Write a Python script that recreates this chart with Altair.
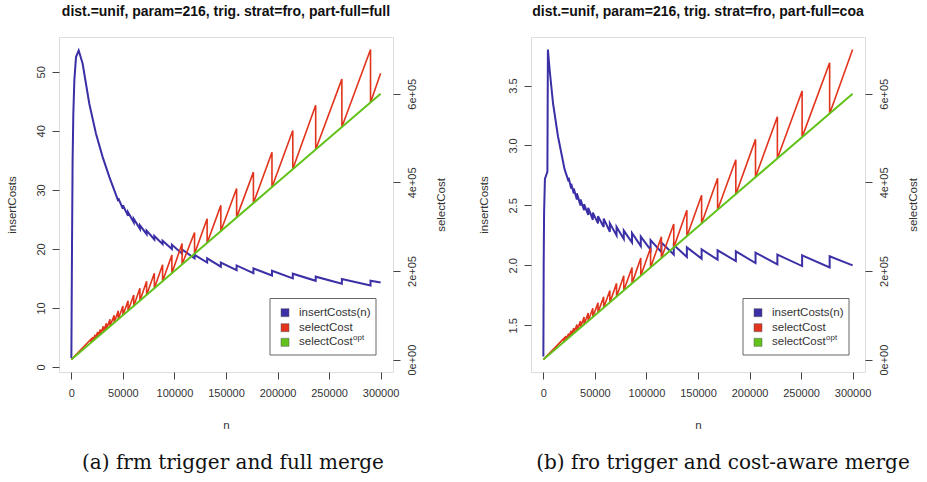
import altair as alt
import pandas as pd

# ---------------- panel (a) data ----------------
a_blue_n = [0, 600, 1200, 1900, 2900, 4500, 7100, 10900, 17400, 23900, 30300, 36800, 41500]
a_blue_v = [1.5, 20.0, 35.0, 42.9, 48.6, 52.5, 53.6, 51.4, 44.6, 39.5, 35.6, 32.2, 30.0]
a_blue_merge = [45500, 50000, 55000, 60500, 66500, 73000, 80500, 88500, 97500, 107400,
                119500, 131700, 145000, 160300, 176600, 194600, 214800, 237000, 262400, 290200]
a_blue_low = [28.1, 26.8, 25.6, 24.5, 23.4, 22.5, 21.6, 20.8, 20.0, 19.2,
              18.4, 17.7, 17.0, 16.4, 15.9, 15.5, 15.0, 14.6, 14.1, 13.8]
a_blue_high = [28.6, 27.4, 26.2, 25.1, 24.0, 23.1, 22.2, 21.4, 20.7, 19.9,
               19.0, 18.4, 17.7, 17.2, 16.7, 16.3, 15.8, 15.3, 14.9, 14.6]
a_blue_end = 14.3

a_sel_merge = [19000, 21000, 23000, 25500, 28000, 31000, 34000, 37500, 41500, 45500,
               50000, 55000, 60500, 66500, 73000, 80500, 88500, 97500, 107400, 119500,
               131700, 145000, 160300, 176600, 194600, 214800, 237000, 262400, 290200]
a_sel_high = [46000, 51000, 56000, 62000, 68000, 75000, 82000, 91000, 100000, 110000,
              121000, 133000, 146000, 161000, 177000, 195000, 214000, 236000, 262000, 287000,
              318000, 348000, 386000, 423000, 468000, 517000, 574000, 633000, 700000]
a_sel_low = [38000, 42000, 46000, 51000, 56000, 62000, 68000, 75000, 83000, 91000,
             100000, 110000, 121000, 133000, 146000, 161000, 177000, 195000, 215000, 239000,
             263000, 290000, 321000, 353000, 389000, 430000, 474000, 525000, 580000]
a_sel_end = 646000

a_opt_n = [0, 100000, 200000, 300000]
a_opt_v = [0, 200000, 400000, 600000]

# ---------------- panel (b) data ----------------
b_blue_n = [0, 300, 700, 1500, 3900, 4400, 6100, 9400, 14200, 20600]
b_blue_v = [1.24, 2.0, 2.44, 2.72, 2.78, 3.80, 3.63, 3.35, 3.075, 2.80]
b_blue_merge = [24500, 27000, 29500, 32500, 36000, 39500, 43500, 48000, 53000, 58500,
                64500, 71000, 78000, 86000, 94500, 104000, 114500, 126500, 139200, 153500,
                169000, 186700, 205800, 227000, 251000, 277700]
b_blue_low = [2.70, 2.64, 2.60, 2.55, 2.50, 2.46, 2.42, 2.38, 2.35, 2.32,
              2.28, 2.25, 2.22, 2.19, 2.16, 2.13, 2.11, 2.09, 2.07, 2.056,
              2.047, 2.036, 2.019, 2.008, 1.994, 1.983]
b_blue_high = [2.73, 2.68, 2.64, 2.60, 2.55, 2.51, 2.48, 2.44, 2.41, 2.39,
               2.35, 2.32, 2.29, 2.27, 2.24, 2.21, 2.19, 2.17, 2.15, 2.133,
               2.125, 2.117, 2.106, 2.089, 2.083, 2.075]
b_blue_end = 2.00

b_sel_merge = [20000, 22000, 24500, 27000, 29500, 32500, 36000, 39500, 43500, 48000,
               53000, 58500, 64500, 71000, 78000, 86000, 94500, 104000, 114500, 126500,
               139200, 153500, 169000, 186700, 205800, 227000, 251000, 277700]
b_sel_high = [48000, 53000, 59000, 65000, 71000, 79000, 87000, 96000, 105000, 116000,
              128000, 142000, 156000, 172000, 189000, 208000, 229000, 252000, 277000, 306000,
              337000, 371000, 409000, 451000, 497000, 548000, 606000, 670000]
b_sel_low = [40000, 44000, 49000, 54000, 59000, 65000, 72000, 79000, 87000, 96000,
             106000, 117000, 129000, 142000, 156000, 172000, 189000, 208000, 229000, 253000,
             278000, 307000, 338000, 373000, 412000, 454000, 502000, 555000]
b_sel_end = 700000

b_opt_n = [0, 100000, 200000, 300000]
b_opt_v = [0, 200000, 400000, 600000]

titles = ["dist.=unif, param=216, trig. strat=fro, part-full=full",
          "dist.=unif, param=216, trig. strat=fro, part-full=coa"]
captions = ["(a) frm trigger and full merge", "(b) fro trigger and cost-aware merge"]
legend_labels = ["insertCosts(n)", "selectCost", "selectCost"]
x_ticks = [0, 50000, 100000, 150000, 200000, 250000, 300000]
sel_ticks = [0, 200000, 400000, 600000]

BLUE = "#3b2fa6"
RED = "#e2341c"
GREEN = "#62c21b"
W, H = 334, 335
FONT = "Liberation Sans"


def sawtooth(pre_n, pre_v, merge, before, after, end_v):
    rows = list(zip(pre_n, pre_v))
    for m, b, a in zip(merge, before, after):
        rows.append((m, b))
        rows.append((m, a))
    rows.append((300000, end_v))
    return pd.DataFrame({"n": [r[0] for r in rows], "v": [r[1] for r in rows],
                         "i": list(range(len(rows)))})


def panel(blue_df, sel_df, opt_df, ydom, yticks, yfmt, title, caption, cap_x, leg_dx):
    axis_common = dict(grid=False, domain=False, tickSize=7, tickColor="#444",
                       labelColor="#333", labelFont=FONT, labelFontSize=11,
                       titleFont=FONT, titleFontSize=11.5, titleFontWeight="normal",
                       titleColor="#333", labelOverlap=False, labelFlush=False)
    x = alt.X("n:Q", scale=alt.Scale(domain=[-12000, 312000], nice=False, zero=False),
              axis=alt.Axis(values=x_ticks, format="d", title="n", orient="bottom",
                            labelPadding=8, titleX=W / 2, titleY=53,
                            titleBaseline="middle", titleAlign="center", **axis_common))
    yleft = alt.Y("v:Q", scale=alt.Scale(domain=ydom, nice=False, zero=False),
                  axis=alt.Axis(values=yticks, format=yfmt, title="insertCosts", orient="left",
                                labelAngle=270, labelAlign="center", labelBaseline="bottom",
                                labelPadding=6, titleAngle=270, titleX=-47, titleY=H / 2,
                                titleAlign="center", titleBaseline="middle", **axis_common))
    right_axis = alt.Axis(values=sel_ticks, title="selectCost", orient="right",
                          labelExpr="replace(format(datum.value, '.0e'), 'e+', 'e+0')",
                          labelAngle=270, labelAlign="center", labelBaseline="top",
                          labelPadding=6, titleAngle=270, titleX=48, titleY=H / 2,
                          titleAlign="center", titleBaseline="middle", **axis_common)
    yright = alt.Y("v:Q", scale=alt.Scale(domain=[-28000, 728000], nice=False, zero=False),
                   axis=right_axis)

    blue = alt.Chart(blue_df).mark_line(color=BLUE, strokeWidth=2).encode(
        x=x, y=yleft, order="i:Q")
    red = alt.Chart(sel_df).mark_line(color=RED, strokeWidth=1.6).encode(
        x=x, y=yright, order="i:Q")
    green = alt.Chart(opt_df).mark_line(color=GREEN, strokeWidth=2).encode(
        x=x, y=yright, order="i:Q")
    right = alt.layer(red, green)

    dummy = pd.DataFrame({"d": [0]})
    lx0, lx1, ly0, ly1 = 211 + leg_dx, 317 + leg_dx, 261.5, 318
    box = alt.Chart(dummy).mark_rect(fill="white", stroke="#666", strokeWidth=1).encode(
        x=alt.value(lx0), x2=alt.value(lx1), y=alt.value(ly0), y2=alt.value(ly1))
    rows_y = [275.7, 290.7, 305.3]
    cols = [BLUE, RED, GREEN]
    deco = [box]
    for yy, c, lab in zip(rows_y, cols, legend_labels):
        deco.append(alt.Chart(dummy).mark_rect(fill=c, stroke="#555", strokeWidth=0.5).encode(
            x=alt.value(222 + leg_dx), x2=alt.value(230 + leg_dx),
            y=alt.value(yy - 4), y2=alt.value(yy + 4)))
        deco.append(alt.Chart(dummy).mark_text(
            text=lab, align="left", baseline="middle", font=FONT, fontSize=11.5,
            color="#333").encode(x=alt.value(240 + leg_dx), y=alt.value(yy)))
    deco.append(alt.Chart(dummy).mark_text(
        text="opt", align="left", baseline="middle", font=FONT, fontSize=8,
        color="#333").encode(x=alt.value(294 + leg_dx), y=alt.value(rows_y[2] - 4)))
    deco.append(alt.Chart(dummy).mark_text(
        text=caption, align="center", baseline="middle", font="DejaVu Serif", fontSize=20,
        color="#111").encode(x=alt.value(cap_x), y=alt.value(426)))

    return alt.layer(blue, right, *deco).resolve_scale(y="independent").properties(
        width=W, height=H,
        title=alt.TitleParams(title, font=FONT, fontSize=14, fontWeight="bold",
                              anchor="middle", offset=18, color="#111"))


pa = panel(sawtooth(a_blue_n, a_blue_v, a_blue_merge, a_blue_low, a_blue_high, a_blue_end),
           sawtooth([0], [0], a_sel_merge, a_sel_high, a_sel_low, a_sel_end),
           pd.DataFrame({"n": a_opt_n, "v": a_opt_v, "i": range(len(a_opt_n))}),
           [-0.85, 55.9], [0, 10, 20, 30, 40, 50], "d", titles[0], captions[0], 174, 0)
pb = panel(sawtooth(b_blue_n, b_blue_v, b_blue_merge, b_blue_low, b_blue_high, b_blue_end),
           sawtooth([0], [0], b_sel_merge, b_sel_high, b_sel_low, b_sel_end),
           pd.DataFrame({"n": b_opt_n, "v": b_opt_v, "i": range(len(b_opt_n))}),
           [1.11, 3.905], [1.5, 2.0, 2.5, 3.0, 3.5], ".1f", titles[1], captions[1], 192, 1)

chart = alt.hconcat(pa, pb, spacing=30).properties(
    padding={"left": 5, "top": 4, "right": 0, "bottom": 0}
).configure_view(stroke="#555", strokeWidth=1).configure(background="white")

chart.save("out.html", embed_options={"renderer": "svg", "actions": False})
